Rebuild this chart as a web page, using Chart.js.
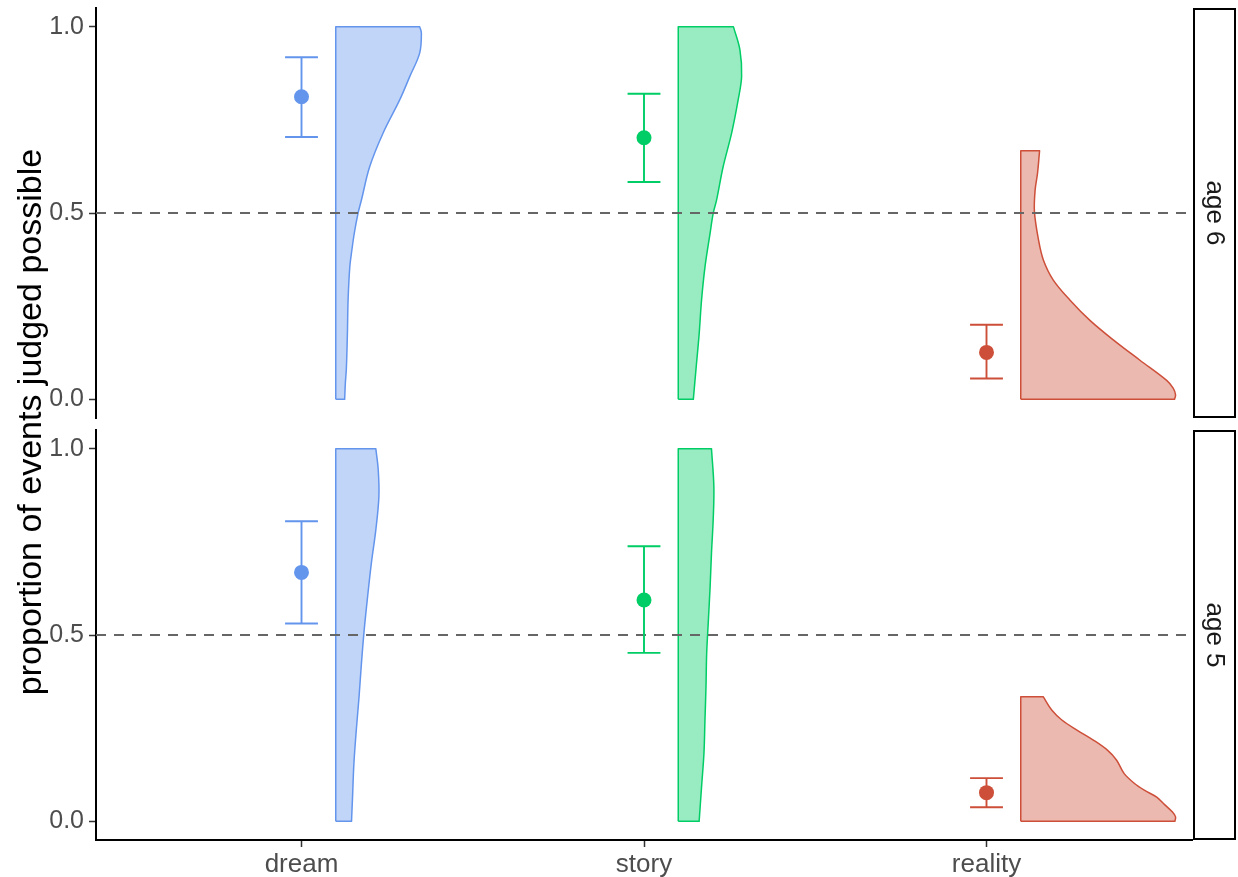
<!DOCTYPE html>
<html>
<head>
<meta charset="utf-8">
<title>Proportion of events judged possible</title>
<script src="https://cdn.jsdelivr.net/npm/chart.js@4"></script>
<style>
  html, body { margin: 0; padding: 0; background: #ffffff; }
  #wrap { position: relative; width: 1238px; height: 877px; }
  #wrap canvas { position: absolute; left: 0; top: 0; }
</style>
</head>
<body>
<div id="wrap">
  <canvas id="panelAge6" width="1238" height="877"></canvas>
  <canvas id="panelAge5" width="1238" height="877"></canvas>
</div>
<script>
// ---- data -------------------------------------------------------------
const categories = ['dream', 'story', 'reality'];
const panelLabels = ['age 6', 'age 5'];
const yTickValues = [0, 0.5, 1];
const chanceLevel = 0.5;
const yTitle = 'proportion of events judged possible';

// means with 95% CI, per category
const means6 = [0.812, 0.702, 0.126];
const lower6 = [0.704, 0.583, 0.056];
const upper6 = [0.918, 0.820, 0.200];

const means5 = [0.668, 0.594, 0.077];
const lower5 = [0.531, 0.452, 0.038];
const upper5 = [0.805, 0.738, 0.116];

// half-violin density profiles: [proportion, half width in category units]
const age6Dream = [[0, 0.026], [0.043, 0.028], [0.083, 0.031], [0.175, 0.034], [0.266, 0.036], [0.355, 0.041], [0.40, 0.047], [0.445, 0.054], [0.499, 0.065], [0.535, 0.075], [0.624, 0.099], [0.714, 0.138], [0.804, 0.187], [0.866, 0.216], [0.929, 0.245], [0.983, 0.250], [1, 0.245]];
const age6Story = [[0, 0.044], [0.083, 0.052], [0.175, 0.061], [0.266, 0.068], [0.355, 0.078], [0.446, 0.093], [0.499, 0.102], [0.535, 0.112], [0.624, 0.131], [0.715, 0.156], [0.804, 0.175], [0.866, 0.185], [0.938, 0.180], [1, 0.161]];
const age6Reality = [[0, 0.449], [0.012, 0.452], [0.030, 0.445], [0.051, 0.426], [0.105, 0.348], [0.159, 0.271], [0.212, 0.202], [0.266, 0.144], [0.320, 0.095], [0.374, 0.066], [0.427, 0.052], [0.503, 0.040], [0.562, 0.042], [0.607, 0.049], [0.667, 0.055]];

const age5Dream = [[0, 0.046], [0.065, 0.049], [0.155, 0.053], [0.245, 0.060], [0.334, 0.068], [0.424, 0.075], [0.513, 0.083], [0.603, 0.093], [0.693, 0.104], [0.782, 0.117], [0.872, 0.126], [0.944, 0.124], [1, 0.117]];
const age5Story = [[0, 0.061], [0.092, 0.068], [0.182, 0.075], [0.272, 0.078], [0.361, 0.081], [0.451, 0.083], [0.540, 0.088], [0.629, 0.093], [0.719, 0.097], [0.809, 0.102], [0.898, 0.104], [1, 0.097]];
const age5Reality = [[0, 0.450], [0.012, 0.452], [0.025, 0.443], [0.045, 0.420], [0.065, 0.397], [0.083, 0.362], [0.101, 0.333], [0.128, 0.302], [0.164, 0.280], [0.191, 0.253], [0.218, 0.212], [0.245, 0.164], [0.272, 0.120], [0.298, 0.091], [0.334, 0.066]];

// ---- style ------------------------------------------------------------
const lineColors = ['#6495ED', '#00CD66', '#CD4F39'];
const fillColors = ['rgba(100,149,237,0.4)', 'rgba(0,205,102,0.4)', 'rgba(205,79,57,0.4)'];
const FONT = "'Liberation Sans', Arial, Helvetica, sans-serif";
const violinOffset = 0.1;   // violins sit to the right of each category
const capHalf = 0.048;      // error-bar cap half width

// ---- dataset builders -------------------------------------------------
function violinPath(profile, idx) {
  const base = idx + 1 + violinOffset;
  const bottom = profile[0][0];
  const top = profile[profile.length - 1][0];
  const pts = [];
  // corners are doubled so the spline keeps them sharp
  pts.push({ x: base, y: bottom }, { x: base, y: bottom });
  profile.forEach(([p, w], k) => {
    pts.push({ x: base + w, y: p });
    if (k === 0 || k === profile.length - 1) pts.push({ x: base + w, y: p });
  });
  pts.push({ x: base, y: top }, { x: base, y: top });
  pts.push({ x: base, y: bottom });
  return pts;
}

function errorBarPath(idx, lo, hi) {
  const c = idx + 1;
  return [
    { x: c - capHalf, y: hi }, { x: c + capHalf, y: hi },
    { x: null, y: null },
    { x: c, y: hi }, { x: c, y: lo },
    { x: null, y: null },
    { x: c - capHalf, y: lo }, { x: c + capHalf, y: lo }
  ];
}

function buildDatasets(profiles, means, lower, upper) {
  const ds = [];
  categories.forEach((cat, i) => {
    ds.push({
      label: cat + ' mean',
      data: [{ x: i + 1, y: means[i] }],
      showLine: false,
      pointRadius: 7.5,
      pointHoverRadius: 7.5,
      pointBorderWidth: 0,
      pointBackgroundColor: lineColors[i],
      order: 0
    });
    ds.push({
      label: cat + ' CI',
      data: errorBarPath(i, lower[i], upper[i]),
      showLine: true,
      spanGaps: false,
      borderColor: lineColors[i],
      borderWidth: 1.9,
      borderCapStyle: 'butt',
      pointRadius: 0,
      tension: 0,
      fill: false,
      order: 1
    });
  });
  ds.push({
    label: 'chance',
    data: [{ x: 0.4, y: chanceLevel }, { x: 3.6, y: chanceLevel }],
    showLine: true,
    borderColor: '#666666',
    borderWidth: 1.8,
    borderDash: [10, 8],
    pointRadius: 0,
    fill: false,
    order: 2
  });
  categories.forEach((cat, i) => {
    ds.push({
      label: cat + ' density',
      data: violinPath(profiles[i], i),
      showLine: true,
      fill: 'shape',
      backgroundColor: fillColors[i],
      borderColor: lineColors[i],
      borderWidth: 1.5,
      borderJoinStyle: 'round',
      pointRadius: 0,
      tension: 0.35,
      order: 3
    });
  });
  return ds;
}

// ---- plugins ----------------------------------------------------------
const stripPlugin = {
  id: 'facetStrip',
  afterDraw(chart, args, opts) {
    const { ctx, chartArea } = chart;
    const h = chartArea.bottom - chartArea.top;
    ctx.save();
    ctx.fillStyle = '#ffffff';
    ctx.fillRect(chartArea.right + 2, chartArea.top + 1, 41, h - 2);
    ctx.strokeStyle = '#000000';
    ctx.lineWidth = 2;
    ctx.strokeRect(chartArea.right + 2, chartArea.top + 1, 41, h - 2);
    ctx.translate(chartArea.right + 22, chartArea.top + h / 2);
    ctx.rotate(Math.PI / 2);
    ctx.fillStyle = '#1A1A1A';
    ctx.font = '26px ' + FONT;
    ctx.textAlign = 'center';
    ctx.textBaseline = 'middle';
    ctx.fillText(opts.label, 0, 0);
    ctx.restore();
  }
};

const yTitlePlugin = {
  id: 'sharedYTitle',
  afterDraw(chart, args, opts) {
    if (!opts.text) return;
    const { ctx } = chart;
    ctx.save();
    ctx.translate(opts.x, opts.y);
    ctx.rotate(-Math.PI / 2);
    ctx.fillStyle = '#000000';
    ctx.font = '34px ' + FONT;
    ctx.textAlign = 'center';
    ctx.textBaseline = 'middle';
    ctx.fillText(opts.text, 0, 0);
    ctx.restore();
  }
};

// ---- scales -----------------------------------------------------------
function yScale() {
  return {
    type: 'linear',
    min: -0.05,
    max: 1.05,
    afterBuildTicks: s => { s.ticks = yTickValues.map(v => ({ value: v })); },
    afterFit: s => { s.width = 96; s.paddingTop = 0; s.paddingBottom = 0; },
    ticks: {
      callback: v => Number(v).toFixed(1),
      font: { family: FONT, size: 25 },
      color: '#4D4D4D',
      padding: 5
    },
    grid: { display: true, drawOnChartArea: false, drawTicks: true, tickLength: 7, tickColor: '#333333', tickWidth: 1.5 },
    border: { display: true, color: '#000000', width: 2 }
  };
}

function xScale(showAxis) {
  return {
    type: 'linear',
    min: 0.4,
    max: 3.6,
    display: showAxis,
    afterBuildTicks: s => { s.ticks = categories.map((c, i) => ({ value: i + 1 })); },
    afterFit: s => { if (showAxis) { s.height = 37; } s.paddingLeft = 0; s.paddingRight = 0; },
    ticks: {
      callback: (v, i) => categories[i],
      autoSkip: false,
      maxRotation: 0,
      font: { family: FONT, size: 26 },
      color: '#4D4D4D',
      padding: 2
    },
    grid: { display: true, drawOnChartArea: false, drawTicks: true, tickLength: 7, tickColor: '#333333', tickWidth: 1.5 },
    border: { display: true, color: '#000000', width: 2 }
  };
}

function makePanel(canvasId, label, datasets, padding, showXAxis, withTitle) {
  return new Chart(document.getElementById(canvasId), {
    type: 'scatter',
    data: { datasets },
    options: {
      responsive: false,
      animation: false,
      devicePixelRatio: 1,
      layout: { padding, autoPadding: false },
      scales: { x: xScale(showXAxis), y: yScale() },
      plugins: {
        legend: { display: false },
        tooltip: { enabled: false },
        facetStrip: { label },
        sharedYTitle: withTitle ? { text: yTitle, x: 32, y: 422 } : { text: null }
      }
    },
    plugins: [stripPlugin, yTitlePlugin]
  });
}

makePanel('panelAge6', panelLabels[0],
  buildDatasets([age6Dream, age6Story, age6Reality], means6, lower6, upper6),
  { left: 0, right: 46, top: 8, bottom: 459 }, false, false);

makePanel('panelAge5', panelLabels[1],
  buildDatasets([age5Dream, age5Story, age5Reality], means5, lower5, upper5),
  { left: 0, right: 46, top: 430, bottom: 0 }, true, true);
</script>
</body>
</html>
